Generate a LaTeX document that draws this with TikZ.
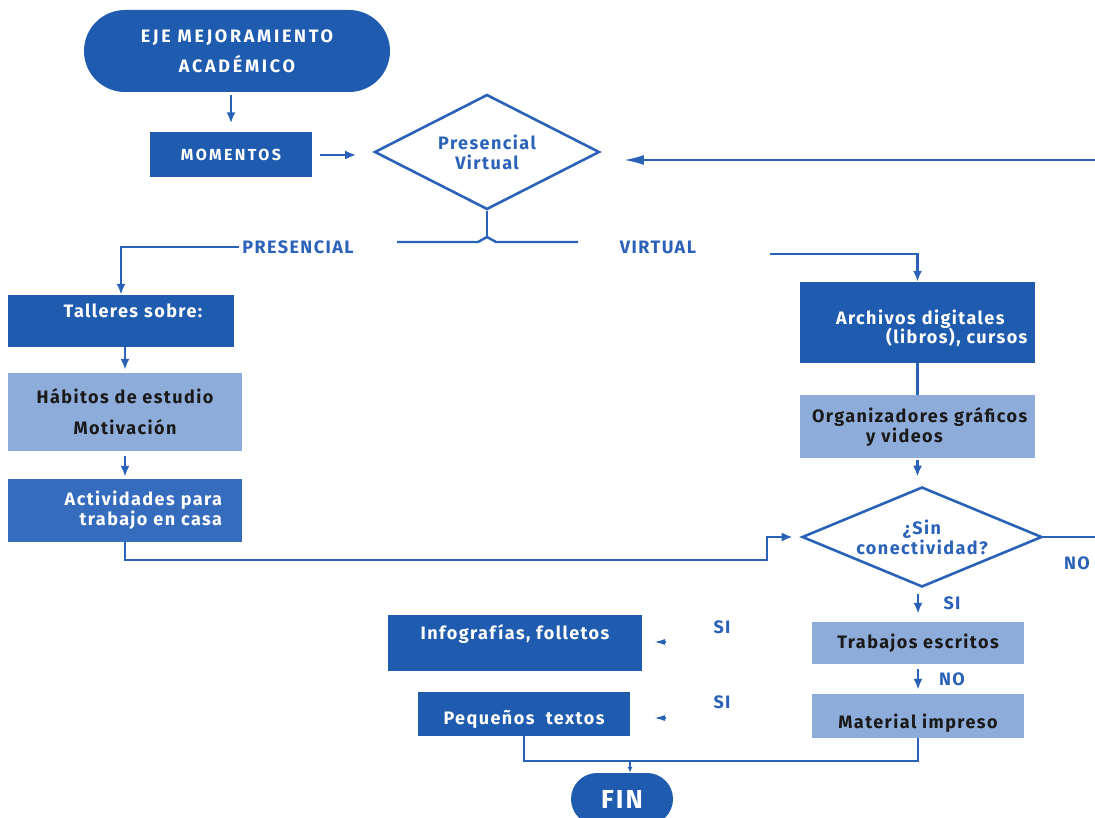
\documentclass[tikz,border=0pt]{standalone}
\usepackage{fontspec}
\setmainfont{Fira Sans}[LetterSpace=8]
\newfontfamily\capsfont{Fira Sans}[LetterSpace=15]
\usepackage{tikz}
\usetikzlibrary{arrows.meta, positioning, shapes.geometric, shapes.misc, calc}

\definecolor{ejeblue}{HTML}{1F5BAE}
\definecolor{midblue}{HTML}{356CBE}
\definecolor{paleblue}{HTML}{8EACD9}
\definecolor{lineblue}{HTML}{2A62B8}
\definecolor{inkgray}{HTML}{1A1A1A}

\begin{document}
\begin{tikzpicture}[x=1pt, y=-1pt,
  every node/.style={font=\bfseries\fontsize{18}{20}\selectfont, inner sep=0pt},
  darkbox/.style={rectangle, fill=ejeblue, text=white, align=center},
  midbox/.style={rectangle, fill=midblue, text=white},
  palebox/.style={rectangle, fill=paleblue, text=inkgray, align=center},
  terminal/.style={rounded rectangle, fill=ejeblue, text=white, align=center},
  decision/.style={diamond, shape aspect=2.2, draw=lineblue, line width=2.6pt, text=lineblue, align=center},
  lbl/.style={text=lineblue},
  conn/.style={draw=lineblue, line width=2.4pt},
  arr/.style={conn, -{Latex[length=11pt, width=9pt]}}
]
  \useasboundingbox (0,0) rectangle (1095,818);

  % --- Start and first decision ---
  \node[terminal, minimum width=306, minimum height=82,
        font=\capsfont\bfseries\fontsize{18}{20}\selectfont] (eje) at (237,51)
    {EJE MEJORAMIENTO\\[9pt]ACADÉMICO};
  \node[darkbox, minimum width=162, minimum height=45,
        font=\capsfont\bfseries\fontsize{16}{18}\selectfont] (momentos) at (231,155) {MOMENTOS};
  \node[decision, minimum width=225, minimum height=115] (modo) at (487,152)
    {Presencial\\Virtual};

  \draw[arr, shorten <=3pt, shorten >=9pt] (momentos.north |- eje.south) -- (momentos.north);
  \draw[arr, shorten <=8pt, shorten >=17pt] (momentos.east) -- (momentos.east -| modo.west);

  % split below the diamond
  \coordinate (split) at (487,237);
  \coordinate (splitL) at (397,242);
  \coordinate (splitR) at (578,242);
  \draw[conn] (modo.south) -- (split);
  \draw[conn] (splitL) -- (478,242) -- (split) -- (496,242) -- (splitR);

  \node[lbl] (presencial) at (298,247) {PRESENCIAL};
  \node[lbl] (virtual) at (658,247) {VIRTUAL};
  \coordinate (virtualout) at (768,254);

  % --- Presencial branch (left column) ---
  \node[darkbox, minimum width=226, minimum height=52, text width=226,
        text height=23pt, text depth=29pt] (talleres) at (121,321)
    {\hspace*{24pt}Talleres sobre:};
  \node[palebox, minimum width=234, minimum height=78] (habitos) at (125,412)
    {Hábitos de estudio\\[11pt]Motivación};
  \node[midbox, minimum width=234, minimum height=63, text width=194,
        align=right] (actividades) at (125,510.5)
    {Actividades para\\trabajo en casa};

  \draw[arr, shorten <=3pt] (presencial.west) -| (talleres.north);
  \draw[arr, shorten >=3pt] (talleres.south -| habitos.north) -- (habitos.north);
  \draw[arr, shorten <=5pt, shorten >=2pt] (habitos.south) -- (actividades.north);

  % --- Virtual branch (right column) ---
  \node[darkbox, minimum width=235, minimum height=81, text width=235,
        align=left, text height=43pt, text depth=38pt] (archivos) at (917.5,322.5)
    {\hspace*{36pt}Archivos digitales\\[-1pt]\hspace*{86pt}(libros), cursos};
  \node[palebox, minimum width=235, minimum height=63, text width=235,
        align=left] (organizadores) at (917.5,426.5)
    {\hspace*{12pt}Organizadores gráficos\\\hspace*{66pt}y videos};
  \node[decision, minimum width=240, minimum height=100] (sinred) at (922,537)
    {¿Sin\\conectividad?};

  \draw[arr, shorten <=2pt] (virtualout) -| (archivos.north);
  \draw[conn] (archivos.south) -- (organizadores.north);
  \draw[arr, shorten <=2pt, shorten >=9pt] (organizadores.south) -- (organizadores.south |- sinred.north);

  % join from the left column
  \coordinate (jog) at (767,560);
  \draw[arr, shorten >=8pt] (actividades.south) |- (jog) |- (sinred.west);

  % NO: out to the right edge and back to the first diamond
  \coordinate (edgeno) at (1095,537);
  \coordinate (edgeback) at (1095,160);
  \draw[conn] (sinred.east) -- (edgeno);
  \draw[conn, -{Latex[length=20pt, width=10pt]}, shorten >=23pt] (edgeback) -- (edgeback -| modo.east);
  \node[lbl] (norojo) at (1077,563) {NO};

  % --- Si / No answers ---
  \node[palebox, minimum width=212, minimum height=42] (trabajos) at (918,643) {Trabajos escritos};
  \node[palebox, minimum width=212, minimum height=44, text height=34pt,
        text depth=10pt] (material) at (918,716) {Material impreso};
  \draw[arr, shorten <=6pt, shorten >=8pt] (sinred.south -| trabajos.north) -- (trabajos.north);
  \draw[arr, shorten <=5pt, shorten >=4pt] (trabajos.south) -- (material.north);
  \node[lbl] (sitrab) at (952,603) {SI};
  \node[lbl] (nomat) at (952,679) {NO};

  \node[darkbox, minimum width=254, minimum height=56, text height=24pt,
        text depth=32pt] (infografias) at (515,643) {Infografías, folletos};
  \node[darkbox, minimum width=212, minimum height=44, text height=32pt,
        text depth=12pt] (pequenos) at (524,714) {Pequeños\ \ textos};

  \coordinate (siA) at (666,642);
  \coordinate (tipA) at (652,642);
  \coordinate (siB) at (666,718);
  \coordinate (tipB) at (652,718);
  \draw[conn, -{Latex[length=13pt, width=6pt]}] (siA) -- (tipA);
  \draw[conn, -{Latex[length=13pt, width=6pt]}] (siB) -- (tipB);
  \node[lbl] (siinfo) at (722,627) {SI};
  \node[lbl] (sipeq) at (722,702) {SI};

  % --- End ---
  \node[terminal, minimum width=102, minimum height=52,
        font=\bfseries\fontsize{26}{28}\selectfont] (fin) at (622,799) {FIN};
  \coordinate (merge) at (630,761);
  \draw[conn] (pequenos.south) |- (merge) -| (material.south);
  \draw[conn, -{Latex[length=6pt, width=5pt]}] (merge) -- (merge |- fin.north);

\end{tikzpicture}
\end{document}
